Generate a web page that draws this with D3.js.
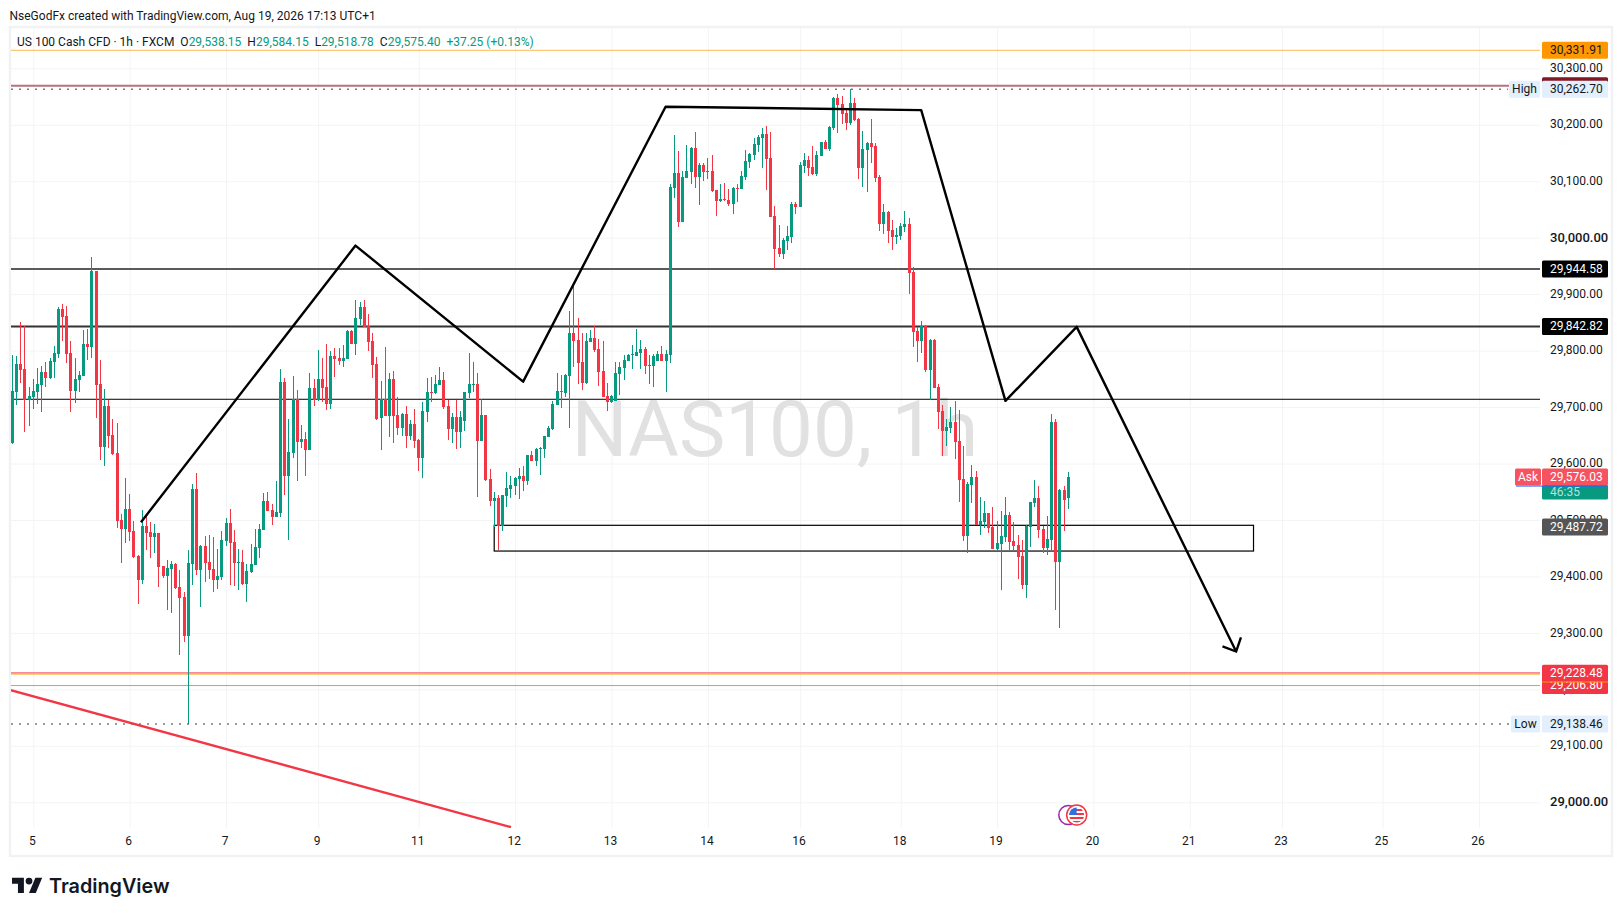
<!DOCTYPE html>
<html>
<head>
<meta charset="utf-8">
<title>NAS100, 1h</title>
<script src="https://cdn.jsdelivr.net/npm/d3@7/dist/d3.min.js"></script>
<style>
  html, body { margin: 0; padding: 0; background: #fff; }
  svg { display: block; }
  text { font-family: Roboto, "Noto Sans", sans-serif; fill: #131722; }
</style>
</head>
<body>
<svg id="chart" width="1623" height="916"></svg>
<script>
// candles, one hour each
const opens = [
  29637,29727,29776,29767,29713,29718,29727,29739,29762,29751,
  29780,29794,29874,29861,29796,29728,29748,29755,29812,29806,
  29941,29741,29629,29702,29651,29619,29500,29484,29519,29480,
  29436,29394,29489,29479,29470,29477,29418,29401,29413,29422,
  29381,29363,29294,29422,29555,29411,29454,29426,29413,29394,
  29399,29463,29495,29461,29424,29426,29387,29408,29420,29450,
  29482,29534,29518,29505,29512,29744,29578,29619,29714,29638,
  29643,29624,29734,29713,29750,29736,29705,29790,29787,29782,
  29785,29835,29812,29856,29877,29844,29817,29776,29681,29714,
  29684,29750,29686,29663,29688,29649,29670,29642,29610,29691,
  29727,29725,29739,29748,29702,29661,29682,29656,29675,29725,
  29739,29741,29640,29686,29573,29534,29539,29489,29543,29555,
  29560,29573,29578,29569,29615,29604,29626,29626,29647,29661,
  29704,29728,29725,29755,29831,29819,29780,29742,29815,29822,
  29803,29764,29720,29709,29711,29759,29769,29782,29792,29790,
  29796,29803,29773,29773,29782,29794,29782,29792,30088,30115,
  30028,30106,30116,30159,30108,30129,30118,30118,30084,30065,
  30069,30067,30060,30088,30086,30108,30134,30147,30164,30177,
  30184,30141,30038,29982,29971,29994,30001,30060,30054,30127,
  30138,30125,30113,30145,30169,30157,30194,30247,30237,30221,
  30203,30239,30210,30123,30155,30168,30162,30108,30024,30046,
  30014,30001,30003,30019,30024,29939,29835,29817,29844,29766,
  29819,29736,29693,29658,29663,29674,29640,29573,29472,29562,
  29576,29491,29496,29512,29488,29449,29457,29470,29509,29463,
  29456,29436,29385,29488,29530,29539,29484,29450,29465,29674,
  29426,29553,29538.15
];
const highs = [
  29792,29790,29851,29844,29736,29750,29769,29773,29780,29787,
  29808,29877,29883,29879,29817,29787,29764,29836,29838,29966,
  29941,29783,29732,29713,29679,29672,29511,29575,29546,29498,
  29438,29518,29507,29496,29493,29477,29418,29429,29427,29424,
  29411,29372,29447,29564,29583,29456,29472,29474,29470,29449,
  29480,29504,29519,29482,29449,29447,29422,29457,29484,29493,
  29548,29550,29528,29569,29767,29751,29679,29755,29730,29668,
  29656,29760,29750,29801,29787,29812,29799,29805,29805,29810,
  29836,29836,29890,29886,29890,29865,29831,29789,29746,29806,
  29760,29764,29718,29689,29702,29677,29697,29643,29709,29751,
  29753,29757,29771,29762,29713,29689,29713,29693,29727,29796,
  29780,29760,29714,29686,29590,29550,29545,29545,29585,29578,
  29576,29592,29596,29615,29622,29627,29629,29649,29666,29711,
  29760,29757,29759,29870,29914,29858,29831,29831,29836,29844,
  29821,29817,29743,29721,29780,29780,29792,29794,29810,29838,
  29819,29806,29792,29794,29799,29808,29801,30095,30182,30154,
  30118,30164,30161,30187,30132,30132,30141,30147,30084,30095,
  30097,30086,30090,30095,30118,30155,30150,30177,30182,30194,
  30198,30187,30056,30022,29999,30021,30063,30063,30134,30150,
  30145,30162,30154,30169,30173,30198,30249,30255,30251,30228,
  30262.7,30247,30212,30189,30169,30210,30168,30111,30060,30047,
  30031,30017,30026,30047,30035,29948,29842,29852,29845,29821,
  29821,29741,29704,29679,29700,29711,29695,29631,29567,29597,
  29587,29541,29534,29512,29523,29498,29516,29541,29514,29496,
  29473,29465,29491,29532,29571,29560,29489,29507,29688,29679,
  29555,29560,29584.15
];
const lows = [
  29635,29704,29742,29656,29666,29697,29705,29691,29736,29750,
  29751,29787,29817,29778,29691,29707,29727,29755,29783,29787,
  29681,29606,29596,29627,29615,29486,29424,29459,29463,29433,
  29351,29387,29447,29433,29441,29381,29397,29340,29335,29377,
  29261,29284,29138.46,29385,29403,29346,29390,29396,29372,29378,
  29394,29454,29385,29383,29376,29385,29355,29406,29420,29433,
  29482,29516,29491,29505,29505,29544,29465,29610,29569,29627,
  29578,29624,29702,29711,29709,29695,29697,29753,29774,29771,
  29785,29811,29792,29845,29842,29799,29751,29677,29624,29684,
  29647,29636,29651,29649,29627,29642,29627,29587,29575,29674,
  29709,29723,29739,29697,29642,29636,29626,29627,29658,29716,
  29727,29541,29640,29569,29525,29488,29447,29480,29523,29539,
  29545,29537,29551,29562,29604,29596,29580,29610,29647,29659,
  29704,29698,29718,29663,29771,29741,29730,29741,29815,29798,
  29737,29718,29693,29707,29711,29721,29748,29782,29767,29790,
  29767,29759,29741,29736,29782,29782,29727,29778,30070,30019,
  30028,30106,30095,30088,30058,30100,30104,30081,30038,30063,
  30065,30056,30042,30063,30086,30103,30123,30138,30152,30123,
  30084,30037,29945,29966,29962,29978,29991,30042,30054,30115,
  30109,30111,30109,30145,30157,30154,30191,30185,30201,30191,
  30200,30207,30104,30090,30081,30132,30099,30012,30007,29991,
  29978,29989,29996,30010,29900,29806,29780,29796,29762,29713,
  29734,29661,29613,29631,29654,29608,29532,29463,29442,29530,
  29491,29473,29486,29477,29449,29447,29376,29461,29447,29447,
  29395,29378,29362,29452,29523,29468,29442,29438,29443,29341,
  29309,29481,29518.78
];
const closes = [
  29728,29776,29766,29713,29720,29728,29741,29762,29751,29782,
  29796,29874,29860,29794,29728,29750,29757,29812,29806,29941,
  29739,29629,29702,29649,29617,29498,29484,29519,29479,29434,
  29394,29489,29477,29470,29477,29417,29401,29415,29422,29380,
  29362,29294,29424,29555,29411,29454,29424,29411,29394,29401,
  29465,29495,29459,29424,29426,29387,29410,29422,29452,29484,
  29534,29516,29505,29514,29744,29578,29620,29714,29638,29643,
  29624,29734,29713,29750,29734,29705,29790,29785,29782,29787,
  29835,29812,29858,29877,29842,29815,29775,29679,29714,29684,
  29750,29684,29663,29688,29649,29670,29640,29610,29693,29727,
  29725,29741,29748,29700,29661,29682,29656,29682,29727,29741,
  29741,29640,29686,29571,29534,29539,29489,29545,29557,29562,
  29575,29578,29569,29615,29604,29626,29627,29649,29663,29705,
  29728,29727,29757,29831,29817,29778,29743,29817,29822,29801,
  29762,29718,29709,29720,29760,29771,29783,29792,29794,29797,
  29803,29773,29775,29790,29794,29782,29794,30090,30115,30028,
  30108,30118,30159,30108,30129,30116,30116,30083,30065,30069,
  30067,30060,30088,30086,30109,30136,30148,30166,30178,30184,
  30139,30037,29980,29971,29996,30003,30060,30054,30129,30138,
  30123,30113,30147,30169,30157,30196,30247,30235,30219,30203,
  30239,30208,30123,30157,30168,30161,30106,30024,30046,30012,
  30001,30005,30021,30024,29937,29833,29817,29844,29766,29819,
  29734,29691,29658,29665,29674,29638,29571,29472,29564,29576,
  29491,29498,29512,29486,29449,29459,29472,29509,29461,29454,
  29434,29385,29489,29532,29539,29482,29450,29466,29674,29426,
  29553,29535,29575.4
];

// axes
const priceTicks = [30300,30200,30100,30000,29900,29800,29700,29600,29500,29400,29300,29200,29100,29000];
const dayBars = [5,28,51,73,97,120,143,166,188,212,235,258,281,303,327,350];
const dayLabels = ["5","6","7","9","11","12","13","14","16","18","19","20","21","23","25","26"];

// drawn objects, in [bar, price]
const zigzag = [[30.7,29496],[81.9,29986],[121.9,29745],[155.9,30232],[216.9,30226],[237,29711],[254,29842],[292.05,29267]];
const arrowBarbs = [[288.8,29276],[292.05,29267],[293.2,29292]];
const redTrend = [[-0.55,29199],[119,28956]];
const boxBars = [115,296.2];
const boxPrices = [29490.6,29445];
const boxPrice = 29487.72;

const orangeLevel = 30331.91;
const maroonLevel = 30269;
const blackLevels = [29944.58,29842.82];
const thinBlackLevel = 29713.8;
const redLevels = [29206.80,29228.48];
const highPrice = 30262.70, lowPrice = 29138.46, askPrice = 29576.03;
const countdown = "46:35";

const header = "NseGodFx created with TradingView.com, Aug 19, 2026 17:13 UTC+1";
const legendName = "US 100 Cash CFD \u00b7 1h \u00b7 FXCM";
const legendOhlc = [["O","29,538.15"],["H","29,584.15"],["L","29,518.78"],["C","29,575.40"]];
const legendChange = "+37.25 (+0.13%)";

const UP = "#089981", DOWN = "#f23645", GRID = "#f3f4f5";
const paneRight = 1540, paneBottom = 828, labelLeft = 1542, labelRight = 1608;

const svg = d3.select("#chart");
const x = d3.scaleLinear().domain([0,252]).range([12.3,1068.3]);
const y = d3.scaleLinear().domain([29000,30300]).range([802.3,68.3]);
const fmt = d3.format(",.2f");
const line = d3.line().x(d => x(d[0])).y(d => y(d[1]));

// frame
svg.append("rect").attr("x",10).attr("y",27).attr("width",1602).attr("height",829)
  .attr("fill","#fff").attr("stroke","#f1f2f3").attr("stroke-width",2.5);

svg.append("clipPath").attr("id","pane").append("rect")
  .attr("x",11).attr("y",28).attr("width",paneRight-11).attr("height",paneBottom-28);

// grid
const gridY = svg.append("g").attr("transform",`translate(${paneRight},0)`)
  .call(d3.axisLeft(y).tickValues(priceTicks).tickSize(paneRight-11).tickFormat(""));
const gridX = svg.append("g").attr("transform",`translate(0,${paneBottom})`)
  .call(d3.axisBottom(x).tickValues(dayBars).tickSize(-(paneBottom-28)).tickFormat(""));
gridY.select(".domain").remove();
gridX.select(".domain").remove();
svg.selectAll("g.tick line").attr("stroke",GRID);

// watermark
svg.append("text").attr("x",775).attr("y",456).attr("text-anchor","middle")
  .style("font-size","78px").style("fill","#e1e1e1").text("NAS100, 1h");

const pane = svg.append("g").attr("clip-path","url(#pane)");

// horizontal levels, behind the candles
function level(price, color, width, shift) {
  const ly = y(price) + (shift || 0);
  pane.append("line").attr("x1",11).attr("x2",paneRight)
    .attr("y1",ly).attr("y2",ly)
    .attr("stroke",color).attr("stroke-width",width);
}
level(orangeLevel,"#ffb74d",1);
level(maroonLevel,"#b9727b",2);
level(blackLevels[0],"#5a5a5a",2);
level(blackLevels[1],"#333333",2);
level(thinBlackLevel,"#000000",1);
level(redLevels[0],"#f7838d",1);
level(redLevels[1],"#f7838d",1,-0.7);
level(redLevels[1],"#ff9800",1.2,0.5);

// high and low dots
[highPrice,lowPrice].forEach(p => {
  pane.append("line").attr("x1",11).attr("x2",p === highPrice ? 1508 : 1510)
    .attr("y1",y(p)).attr("y2",y(p)).attr("stroke","#787b86")
    .attr("stroke-width",1.5).attr("stroke-dasharray","2 6");
});

// rectangle
pane.append("rect").attr("x",x(boxBars[0])).attr("y",y(boxPrices[0]))
  .attr("width",x(boxBars[1])-x(boxBars[0])).attr("height",y(boxPrices[1])-y(boxPrices[0]))
  .attr("fill","none").attr("stroke","#000").attr("stroke-width",1.2);

// candles
const bars = d3.range(opens.length);
const candles = pane.append("g").attr("shape-rendering","crispEdges");
candles.selectAll("rect.wick").data(bars).join("rect").attr("class","wick")
  .attr("x",i => Math.floor(x(i)))
  .attr("y",i => Math.round(y(highs[i])))
  .attr("width",1)
  .attr("height",i => Math.max(1,Math.round(y(lows[i]))-Math.round(y(highs[i]))))
  .attr("fill",i => closes[i] >= opens[i] ? UP : DOWN);
candles.selectAll("rect.body").data(bars).join("rect").attr("class","body")
  .attr("x",i => Math.floor(x(i))-1)
  .attr("y",i => Math.round(y(Math.max(opens[i],closes[i]))))
  .attr("width",3)
  .attr("height",i => Math.max(1,Math.round(y(Math.min(opens[i],closes[i])))-Math.round(y(Math.max(opens[i],closes[i])))))
  .attr("fill",i => closes[i] >= opens[i] ? UP : DOWN);

// hand drawn lines on top
pane.append("path").attr("d",line(redTrend)).attr("fill","none")
  .attr("stroke","#f23645").attr("stroke-width",2.4);
pane.append("path").attr("d",line(zigzag)).attr("fill","none")
  .attr("stroke","#000").attr("stroke-width",2.4).attr("stroke-linejoin","round");
pane.append("path").attr("d",line(arrowBarbs)).attr("fill","none")
  .attr("stroke","#000").attr("stroke-width",2.4);

// event marker under the last bars
const markerY = 815;
svg.append("circle").attr("cx",x(252)).attr("cy",markerY).attr("r",9.5)
  .attr("fill","#fff").attr("stroke","#9c27b0").attr("stroke-width",1.5);
svg.append("circle").attr("cx",x(254)).attr("cy",markerY).attr("r",10)
  .attr("fill","#fff").attr("stroke","#f23645").attr("stroke-width",1.5);
svg.append("clipPath").attr("id","flag").append("circle")
  .attr("cx",x(254)).attr("cy",markerY).attr("r",7.5);
const flag = svg.append("g").attr("clip-path","url(#flag)");
flag.append("rect").attr("x",x(254)-8).attr("y",markerY-8).attr("width",16).attr("height",16).attr("fill","#fff");
[-5,-1,3,7].forEach(d => flag.append("rect").attr("x",x(254)-8).attr("y",markerY+d-1)
  .attr("width",16).attr("height",2).attr("fill","#f23645"));
flag.append("rect").attr("x",x(254)-8).attr("y",markerY-8).attr("width",8).attr("height",8).attr("fill","#2f6fe0");

// price axis
const priceAxis = svg.append("g").attr("transform","translate(1550,0)")
  .call(d3.axisRight(y).tickValues(priceTicks).tickSize(0).tickPadding(0).tickFormat(fmt));
priceAxis.select(".domain").remove();
priceAxis.selectAll("text").attr("dy","0.26em")
  .style("font-size",d => d % 1000 === 0 ? "13px" : "12px")
  .style("font-weight",d => d % 1000 === 0 ? 500 : 400).style("fill","#131722");

// time axis
const timeAxis = svg.append("g").attr("transform",`translate(-1.5,${paneBottom})`)
  .call(d3.axisBottom(x).tickValues(dayBars).tickSize(0).tickPadding(8).tickFormat((d,i) => dayLabels[i]));
timeAxis.select(".domain").remove();
timeAxis.selectAll("text").style("font-size","12px").style("fill","#131722");

// labels on the price axis
function tag(price, text, bg, fg, left, right) {
  const cy = y(price);
  svg.append("rect").attr("x",left).attr("y",cy-8.5).attr("width",right-left).attr("height",17)
    .attr("rx",1.5).attr("fill",bg);
  if (text) svg.append("text").attr("x",left === labelLeft ? 1550 : (left+right)/2).attr("y",cy)
    .attr("dy","0.3em").attr("text-anchor",left === labelLeft ? "start" : "middle")
    .style("font-size","12px").style("fill",fg).text(text);
}
tag(orangeLevel,fmt(orangeLevel),"#ff9800","#131722",labelLeft,labelRight);
tag(maroonLevel,"","#801922","#fff",labelLeft,labelRight);
tag(highPrice,fmt(highPrice),"#e3effd","#131722",labelLeft,labelRight);
tag(highPrice,"High","#e3effd","#131722",1509,1540);
blackLevels.forEach(p => tag(p,fmt(p),"#000","#fff",labelLeft,labelRight));
tag(boxPrice,fmt(boxPrice),"#555555","#fff",labelLeft,labelRight);
tag(redLevels[0],fmt(redLevels[0]),DOWN,"#fff",labelLeft,labelRight);
tag(redLevels[1],fmt(redLevels[1]),DOWN,"#fff",labelLeft,labelRight);
svg.append("rect").attr("x",labelLeft).attr("y",681.5).attr("width",labelRight-labelLeft).attr("height",1).attr("fill","#ff9800");
tag(lowPrice,fmt(lowPrice),"#e3effd","#131722",labelLeft,labelRight);
tag(lowPrice,"Low","#e3effd","#131722",1511,1540);

// ask label with the countdown under it
svg.append("rect").attr("x",labelLeft).attr("y",y(askPrice)+8).attr("width",labelRight-labelLeft).attr("height",14.5)
  .attr("rx",1.5).attr("fill",UP);
svg.append("text").attr("x",1550).attr("y",y(askPrice)+15).attr("dy","0.35em")
  .style("font-size","12px").style("fill","#b5e3da").text(countdown);
tag(askPrice,fmt(askPrice),"#f7525f","#fff",labelLeft,labelRight);
tag(askPrice,"Ask","#f7525f","#fff",1515,1541);
svg.append("rect").attr("x",1516).attr("y",y(askPrice)+8.5).attr("width",labelRight-1516).attr("height",1).attr("fill","#2962ff");

// header and legend
svg.append("text").attr("x",9.5).attr("y",19.5).style("font-size","12px").text(header);
const legend = svg.append("text").attr("x",17).attr("y",46).style("font-size","12px");
legend.append("tspan").text(legendName);
legendOhlc.forEach(d => {
  legend.append("tspan").attr("dx",6).text(d[0]);
  legend.append("tspan").style("fill",UP).text(d[1]);
});
legend.append("tspan").attr("dx",6).style("fill",UP).text(legendChange);

// logo
const logo = svg.append("g").attr("transform","translate(12,874.3) scale(0.85)");
logo.append("path").attr("d","M14 22H7V11H0V4h14v18zM28 22h-8l7.5-18h8L28 22z").attr("fill","#131722");
logo.append("circle").attr("cx",20).attr("cy",8).attr("r",4).attr("fill","#131722");
svg.append("text").attr("x",49).attr("y",892.7).style("font-family","Inter")
  .style("font-size","19.8px").style("font-weight",600).text("TradingView");
</script>
</body>
</html>
